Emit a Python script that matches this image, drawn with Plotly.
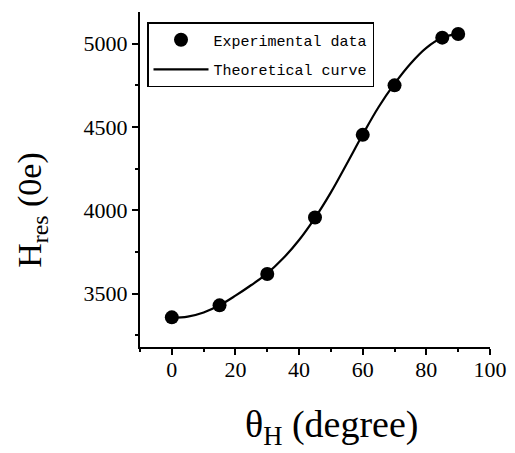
import plotly.graph_objects as go

# Experimental data
theta_exp = [0, 15, 30, 45, 60, 70, 85, 90]
hres_exp = [3358, 3430, 3618, 3957, 4453, 4750, 5036, 5058]

# Theoretical curve
theta_fit = [0, 5, 10, 15, 20, 25, 30, 35, 40, 45, 50, 55, 60, 65, 70, 75, 80, 85, 90]
hres_fit = [3355, 3362, 3387, 3430, 3488, 3552, 3622, 3712, 3822, 3955, 4108, 4280, 4455, 4620, 4760, 4880, 4975, 5035, 5060]

x_ticks = [0, 20, 40, 60, 80, 100]
y_ticks = [3500, 4000, 4500, 5000]

fig = go.Figure()
fig.add_trace(go.Scatter(
    x=theta_exp, y=hres_exp, mode="markers", name="Experimental data",
    legendgroup="exp",
    marker=dict(color="black", size=14, symbol="circle"),
))
fig.add_trace(go.Scatter(
    x=theta_fit, y=hres_fit, mode="lines", name="Theoretical curve",
    legendgroup="fit",
    line=dict(color="black", width=2.2, shape="spline"),
))

axis_common = dict(
    showgrid=False, zeroline=False, showline=True, linecolor="black", linewidth=2,
    ticks="outside", ticklen=6, tickwidth=2, tickcolor="black",
    tickfont=dict(family="Liberation Serif", size=22, color="black"),
    mirror=False, automargin=False,
)

fig.update_layout(
    width=515, height=453,
    margin=dict(l=140, r=25, t=12, b=106, autoexpand=False),
    paper_bgcolor="white", plot_bgcolor="white",
    showlegend=True,
    legend=dict(
        x=0.02, y=0.97, xanchor="left", yanchor="top",
        bgcolor="white", bordercolor="black", borderwidth=1.5,
        font=dict(family="Liberation Mono", size=15, color="black"),
        tracegroupgap=7, itemwidth=55,
    ),
    xaxis=dict(
        range=[-10, 100], tickvals=x_ticks, ticklabelstandoff=-4,
        minor=dict(dtick=10, ticks="outside", ticklen=3, tickwidth=1.5, tickcolor="black"),
        **axis_common,
    ),
    yaxis=dict(
        range=[3180, 5190], tickvals=y_ticks,
        minor=dict(dtick=250, ticks="outside", ticklen=3, tickwidth=1.5, tickcolor="black"),
        **axis_common,
    ),
    annotations=[
        dict(text="θ<sub>H</sub> (degree)", xref="paper", yref="paper",
             x=0.546, y=-0.24, xanchor="center", yanchor="middle", showarrow=False,
             font=dict(family="Liberation Serif", size=38, color="black")),
        dict(text="H<sub>res</sub> (0e)", xref="paper", yref="paper",
             x=-0.311, y=0.41, xanchor="center", yanchor="middle", showarrow=False,
             textangle=-90,
             font=dict(family="Liberation Serif", size=34, color="black")),
    ],
)

fig.write_html("out.html", config={"displayModeBar": False},
               post_script="document.body.style.margin='0px';")
